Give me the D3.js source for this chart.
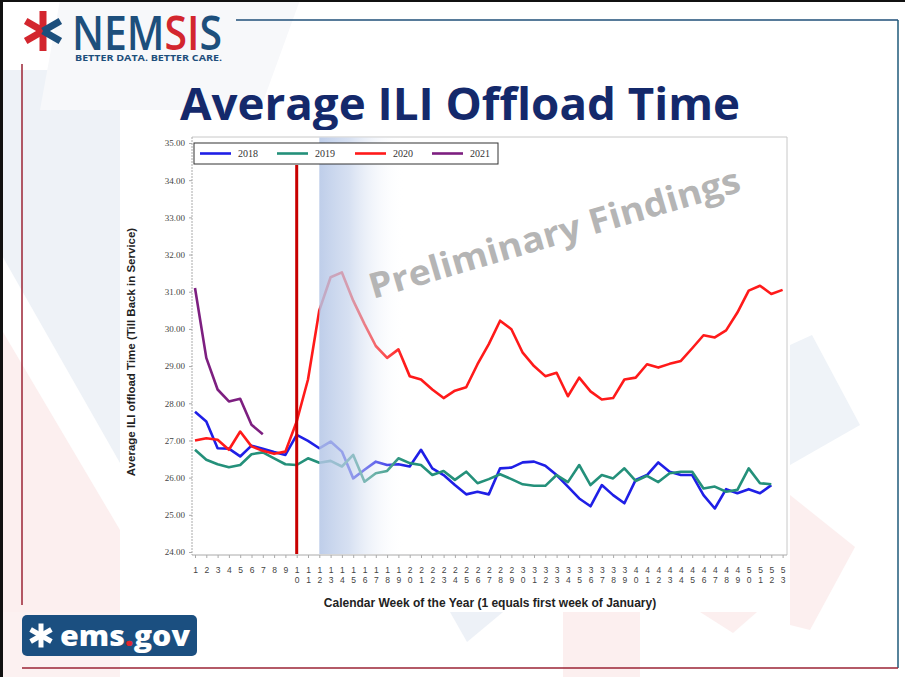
<!DOCTYPE html>
<html>
<head>
<meta charset="utf-8">
<script src="https://cdn.jsdelivr.net/npm/d3@7"></script>
<style>
  body { margin: 0; background: #fff; }
  svg { display: block; }
</style>
</head>
<body>
<script>
// weekly average ILI offload time, one array per year (week 1 = first item)
var ili2018 = [27.77, 27.51, 26.79, 26.78, 26.57, 26.86, 26.78, 26.69, 26.61, 27.15, 26.99, 26.79,
  26.97, 26.70, 25.98, 26.21, 26.43, 26.34, 26.36, 26.30, 26.75, 26.25, 26.07, 25.80, 25.55, 25.62,
  25.55, 26.25, 26.27, 26.41, 26.43, 26.32, 26.07, 25.76, 25.44, 25.23, 25.80, 25.53, 25.31, 25.94,
  26.07, 26.41, 26.16, 26.07, 26.07, 25.53, 25.17, 25.69, 25.58, 25.69, 25.58, 25.80];
var ili2019 = [26.75, 26.48, 26.36, 26.28, 26.34, 26.63, 26.68, 26.52, 26.36, 26.34, 26.52, 26.40,
  26.45, 26.30, 26.61, 25.89, 26.12, 26.18, 26.52, 26.39, 26.34, 26.07, 26.18, 25.94, 26.16, 25.85,
  25.96, 26.09, 25.96, 25.82, 25.78, 25.78, 26.07, 25.88, 26.34, 25.80, 26.07, 25.98, 26.25, 25.91,
  26.05, 25.88, 26.12, 26.16, 26.16, 25.71, 25.76, 25.62, 25.67, 26.25, 25.85, 25.82];
var ili2020 = [27.00, 27.06, 27.02, 26.75, 27.24, 26.84, 26.72, 26.64, 26.70, 27.51, 28.64, 30.50,
  31.39, 31.52, 30.76, 30.13, 29.54, 29.22, 29.45, 28.73, 28.64, 28.37, 28.14, 28.34, 28.43, 29.05,
  29.59, 30.22, 29.99, 29.36, 29.00, 28.73, 28.82, 28.19, 28.69, 28.32, 28.10, 28.14, 28.64, 28.69,
  29.05, 28.96, 29.06, 29.14, 29.48, 29.83, 29.77, 29.96, 30.44, 31.03, 31.16, 30.94, 31.05];
var ili2021 = [31.10, 29.22, 28.37, 28.05, 28.12, 27.42, 27.17];

var years = ["2018", "2019", "2020", "2021"];
var yearColors = ["#1f1fe6", "#24907a", "#ff1a1a", "#7d1f80"];
var weeks = d3.range(1, 54);
var yTicks = [24, 25, 26, 27, 28, 29, 30, 31, 32, 33, 34, 35];
var markerWeek = 10;   // dark red vertical line
var shadeWeek = 12;    // start of the blue fade

var series = [ili2018, ili2019, ili2020, ili2021];

var svg = d3.select("body").append("svg")
  .attr("width", 905)
  .attr("height", 677);

var defs = svg.append("defs");

//************************************************************
// slide background
//************************************************************
svg.append("rect").attr("width", 905).attr("height", 677).attr("fill", "#fff");

var paleShapes = [
  {fill: "#eef2f7", pts: [[0, 70], [120, 70], [120, 463], [0, 252]]},
  {fill: "#fcefef", pts: [[0, 327], [120, 530], [120, 612], [0, 612]]},
  {fill: "#fcf1f1", pts: [[0, 612], [120, 612], [120, 677], [0, 677]]},
  {fill: "#eff3f8", pts: [[790, 345], [812, 335], [860, 425], [790, 465]]},
  {fill: "#fcefef", pts: [[790, 495], [855, 547], [810, 630], [790, 625]]},
  {fill: "#edf1f7", pts: [[450, 612], [503, 612], [467, 642]]},
  {fill: "#fcefef", pts: [[563, 612], [640, 612], [640, 677], [563, 677]]},
  {fill: "#fcefef", pts: [[700, 612], [757, 612], [733, 633]]},
  {fill: "#f7f8fa", pts: [[60, 0], [300, 0], [260, 110], [40, 110]]}
];
svg.selectAll(".pale")
  .data(paleShapes)
  .enter()
  .append("polygon")
  .attr("class", "pale")
  .attr("points", function(d) { return d.pts.join(" "); })
  .attr("fill", function(d) { return d.fill; });

// slide frame
svg.append("line").attr("x1", 0).attr("x2", 905).attr("y1", 1).attr("y2", 1)
  .attr("stroke", "#111").attr("stroke-width", 2);
svg.append("line").attr("x1", 1.5).attr("x2", 1.5).attr("y1", 0).attr("y2", 677)
  .attr("stroke", "#111").attr("stroke-width", 3);
svg.append("line").attr("x1", 236).attr("x2", 898).attr("y1", 20).attr("y2", 20)
  .attr("stroke", "#1f4f78").attr("stroke-width", 1.5);
svg.append("line").attr("x1", 898).attr("x2", 898).attr("y1", 20).attr("y2", 668)
  .attr("stroke", "#1f5a7a").attr("stroke-width", 1.5);
svg.append("line").attr("x1", 22).attr("x2", 898).attr("y1", 668).attr("y2", 668)
  .attr("stroke", "#9b2335").attr("stroke-width", 1.5);
svg.append("line").attr("x1", 22).attr("x2", 22).attr("y1", 64).attr("y2", 605)
  .attr("stroke", "#9b2335").attr("stroke-width", 1.5);

//************************************************************
// NEMSIS logo
//************************************************************
var logo = svg.append("g");
var arms = [
  {a: -90, c: "#d3262e"}, {a: 90, c: "#d3262e"},
  {a: -150, c: "#d3262e"}, {a: 150, c: "#d3262e"},
  {a: -30, c: "#1d4f7c"}, {a: 30, c: "#1d4f7c"}
];
logo.selectAll(".arm")
  .data(arms)
  .enter()
  .append("line")
  .attr("x1", 43).attr("y1", 31)
  .attr("x2", function(d) { return 43 + 20 * Math.cos(d.a * Math.PI / 180); })
  .attr("y2", function(d) { return 31 + 20 * Math.sin(d.a * Math.PI / 180); })
  .attr("stroke", function(d) { return d.c; })
  .attr("stroke-width", 7);

var nemsis = logo.append("text")
  .attr("x", 72).attr("y", 50)
  .attr("font-family", "'Open Sans', sans-serif")
  .attr("font-size", 47)
  .attr("font-weight", 600)
  .attr("textLength", 150)
  .attr("lengthAdjust", "spacingAndGlyphs");
nemsis.append("tspan").attr("fill", "#1d4f7c").text("NEM");
nemsis.append("tspan").attr("fill", "#d3262e").text("SI");
nemsis.append("tspan").attr("fill", "#1d4f7c").text("S");

logo.append("text")
  .attr("x", 75).attr("y", 61)
  .attr("font-family", "'Open Sans', sans-serif")
  .attr("font-size", 9)
  .attr("font-weight", 700)
  .attr("fill", "#1d4f7c")
  .attr("textLength", 147)
  .attr("lengthAdjust", "spacingAndGlyphs")
  .text("BETTER DATA. BETTER CARE.");

// slide title
svg.append("text")
  .attr("x", 180).attr("y", 120)
  .attr("font-family", "'Open Sans', sans-serif")
  .attr("font-size", 44)
  .attr("font-weight", 700)
  .attr("fill", "#14296b")
  .attr("textLength", 560)
  .attr("lengthAdjust", "spacingAndGlyphs")
  .text("Average ILI Offload Time");

//************************************************************
// chart
//************************************************************
svg.append("rect")
  .attr("x", 122).attr("y", 130)
  .attr("width", 668).attr("height", 482)
  .attr("fill", "#fff");

var plotLeft = 192, plotRight = 787, plotTop = 137, plotBottom = 555;

var xScale = d3.scaleLinear().domain([1, 53]).range([195, 782.6]);
var yScale = d3.scaleLinear().domain([24, 35]).range([552, 143]);

// frame
svg.append("line").attr("x1", plotLeft).attr("x2", plotRight).attr("y1", plotTop).attr("y2", plotTop)
  .attr("stroke", "#c8c8c8");
svg.append("line").attr("x1", plotRight).attr("x2", plotRight).attr("y1", plotTop).attr("y2", plotBottom)
  .attr("stroke", "#c8c8c8");

var yAxis = d3.axisLeft(yScale)
  .tickValues(yTicks)
  .tickFormat(d3.format(".2f"))
  .tickSize(3)
  .tickPadding(4);

var gY = svg.append("g")
  .attr("transform", "translate(" + plotLeft + ",0)")
  .call(yAxis);
gY.select(".domain").attr("stroke", "#aaa").attr("stroke-dasharray", "2,1").attr("d", "M0," + plotTop + "V" + plotBottom);
gY.selectAll(".tick line").attr("stroke", "#aaa");
gY.selectAll(".tick text")
  .attr("font-family", "'Liberation Serif', serif")
  .attr("font-size", 9)
  .attr("fill", "#444");

var xAxis = d3.axisBottom(xScale)
  .tickValues(weeks)
  .tickFormat("")
  .tickSize(3);

var gX = svg.append("g")
  .attr("transform", "translate(0," + plotBottom + ")")
  .call(xAxis);
gX.select(".domain").attr("stroke", "#aaa").attr("d", "M" + plotLeft + ",0H" + plotRight);
gX.selectAll(".tick line").attr("stroke", "#aaa");

// stacked digits under each week
var wkText = gX.selectAll(".tick")
  .append("text")
  .attr("font-family", "'Liberation Sans', sans-serif")
  .attr("font-size", 8.5)
  .attr("fill", "#444")
  .attr("text-anchor", "middle");
wkText.each(function(d) {
  var s = String(d);
  var t = d3.select(this);
  for (var i = 0; i < s.length; i++) {
    t.append("tspan").attr("x", 0).attr("y", 18 + i * 10).text(s[i]);
  }
});

// lines
var line = d3.line()
  .x(function(d, i) { return xScale(i + 1); })
  .y(function(d) { return yScale(d); });

svg.selectAll(".yearLine")
  .data(series)
  .enter()
  .append("path")
  .attr("class", "yearLine")
  .attr("d", line)
  .attr("fill", "none")
  .attr("stroke", function(d, i) { return yearColors[i]; })
  .attr("stroke-width", 2.6)
  .attr("stroke-linejoin", "round");

// blue fade
var grad = defs.append("linearGradient").attr("id", "fade")
  .attr("x1", "0").attr("x2", "1").attr("y1", "0").attr("y2", "0");
grad.append("stop").attr("offset", "0").attr("stop-color", "#b3c5e6").attr("stop-opacity", 0.85);
grad.append("stop").attr("offset", "0.35").attr("stop-color", "#c5d3ec").attr("stop-opacity", 0.7);
grad.append("stop").attr("offset", "1").attr("stop-color", "#ffffff").attr("stop-opacity", 0);

svg.append("rect")
  .attr("x", xScale(shadeWeek))
  .attr("y", plotTop + 0.5)
  .attr("width", 85)
  .attr("height", plotBottom - plotTop - 1.5)
  .attr("fill", "url(#fade)");

// week marker
svg.append("line")
  .attr("x1", xScale(markerWeek)).attr("x2", xScale(markerWeek))
  .attr("y1", 165).attr("y2", plotBottom - 1)
  .attr("stroke", "#c80000")
  .attr("stroke-width", 3);

// legend
var legend = svg.append("g");
legend.append("rect")
  .attr("x", 194).attr("y", 143)
  .attr("width", 304).attr("height", 21)
  .attr("fill", "#fff")
  .attr("stroke", "#333");
var legX = [200, 277, 355, 432];
var entry = legend.selectAll(".entry")
  .data(years)
  .enter()
  .append("g")
  .attr("transform", function(d, i) { return "translate(" + legX[i] + ",153.5)"; });
entry.append("line")
  .attr("x1", 0).attr("x2", 31)
  .attr("stroke", function(d, i) { return yearColors[i]; })
  .attr("stroke-width", 2.6);
entry.append("text")
  .attr("x", 38).attr("y", 3.5)
  .attr("font-family", "'Liberation Serif', serif")
  .attr("font-size", 10)
  .attr("fill", "#333")
  .text(function(d) { return d; });

// axis titles
svg.append("text")
  .attr("transform", "translate(135,352) rotate(-90)")
  .attr("text-anchor", "middle")
  .attr("font-family", "'Liberation Sans', Arial, sans-serif")
  .attr("font-size", 11.5)
  .attr("font-weight", 700)
  .attr("fill", "#222")
  .text("Average ILI offload Time (Till Back in Service)");

svg.append("text")
  .attr("x", 490).attr("y", 607)
  .attr("text-anchor", "middle")
  .attr("font-family", "'Liberation Sans', Arial, sans-serif")
  .attr("font-size", 12)
  .attr("font-weight", 700)
  .attr("fill", "#222")
  .text("Calendar Week of the Year (1 equals first week of January)");

// watermark
svg.append("text")
  .attr("transform", "translate(373,299) rotate(-16.3)")
  .attr("font-family", "'Open Sans', sans-serif")
  .attr("font-size", 35)
  .attr("font-weight", 700)
  .attr("fill", "#b5b5b5")
  .attr("textLength", 385)
  .attr("lengthAdjust", "spacingAndGlyphs")
  .text("Preliminary Findings");

//************************************************************
// ems.gov badge
//************************************************************
var badge = svg.append("g");
badge.append("rect")
  .attr("x", 22).attr("y", 615)
  .attr("width", 175).attr("height", 41)
  .attr("rx", 5)
  .attr("fill", "#1b4f80");
badge.selectAll(".barm")
  .data([-90, 90, -150, 150, -30, 30])
  .enter()
  .append("line")
  .attr("x1", 41).attr("y1", 635.5)
  .attr("x2", function(d) { return 41 + 12 * Math.cos(d * Math.PI / 180); })
  .attr("y2", function(d) { return 635.5 + 12 * Math.sin(d * Math.PI / 180); })
  .attr("stroke", "#fff")
  .attr("stroke-width", 5);
var ems = badge.append("text")
  .attr("x", 60).attr("y", 646)
  .attr("font-family", "'Open Sans', sans-serif")
  .attr("font-size", 29)
  .attr("font-weight", 800)
  .attr("fill", "#fff")
  .attr("textLength", 130)
  .attr("lengthAdjust", "spacingAndGlyphs");
ems.append("tspan").text("ems");
ems.append("tspan").attr("fill", "#e0262e").text(".");
ems.append("tspan").text("gov");
</script>
</body>
</html>
